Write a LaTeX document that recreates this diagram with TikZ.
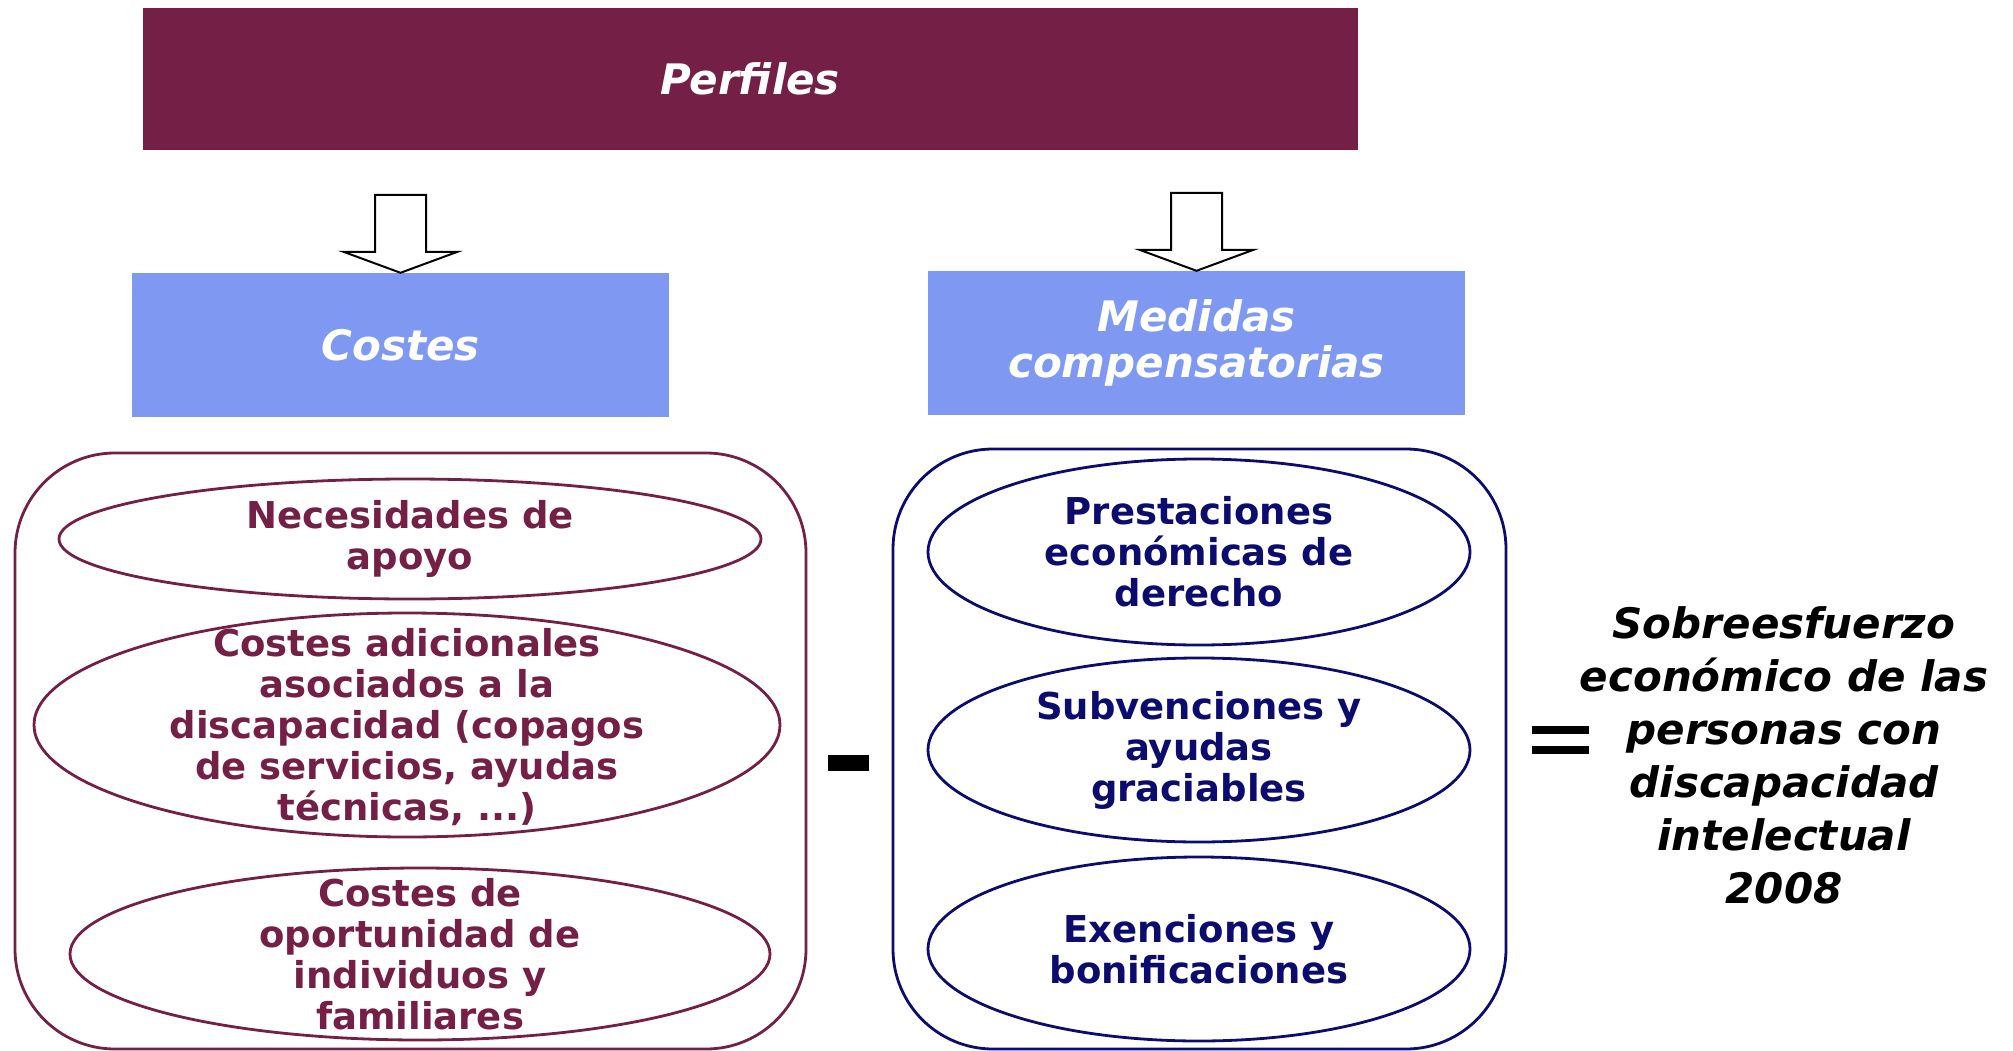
\documentclass[tikz,border=0pt]{standalone}
\usepackage{fontspec}
\setmainfont{DejaVu Sans}
\usetikzlibrary{shapes.geometric}
\definecolor{maroon}{RGB}{116,31,70}
\definecolor{lblue}{RGB}{127,153,243}
\definecolor{navy}{RGB}{12,12,110}
\begin{document}
\begin{tikzpicture}[x=1pt,y=-1pt,
  hdr/.style={fill=maroon, inner sep=0pt, text=white, font=\bfseries\itshape\fontsize{42}{46}\selectfont, align=center},
  bluebox/.style={fill=lblue, inner sep=0pt, minimum width=537pt, minimum height=144pt, text=white, font=\bfseries\itshape\fontsize{42}{46}\selectfont, align=center},
  group/.style={draw, line width=2.8pt, rounded corners=100pt, inner sep=0pt},
  ovl/.style={ellipse, draw, line width=2.8pt, inner sep=0pt},
  lovl/.style={ovl, draw=maroon},
  rovl/.style={ovl, draw=navy},
  otext/.style={inner sep=0pt, align=center, font=\bfseries\fontsize{37}{41}\selectfont},
  ltext/.style={otext, text=maroon},
  rtext/.style={otext, text=navy},
  blkarrow/.style={draw=black, fill=white, line width=2pt, line join=miter},
  bar/.style={fill=black, inner sep=0pt}
]
\useasboundingbox (0,0) rectangle (2013,1051);

% header
\node[hdr, minimum width=1215pt, minimum height=142pt] (perfiles) at (750,79) {Perfiles};

% blue boxes
\node[bluebox] (costes) at (400.5,345) {Costes};
\node[bluebox] (medidas) at (1196.5,343) {Medidas\\compensatorias};

% block arrows
\coordinate (t1) at (costes.north);
\coordinate (t2) at (medidas.north);
\draw[blkarrow] (t1) -- ++(57,-21) -- ++(-31.5,0) -- ++(0,-57) -- ++(-51,0) -- ++(0,57) -- ++(-31.5,0) -- cycle;
\draw[blkarrow] (t2) -- ++(57,-21) -- ++(-31.5,0) -- ++(0,-57) -- ++(-51,0) -- ++(0,57) -- ++(-31.5,0) -- cycle;

% group frames
\node[group, draw=maroon, minimum width=791pt, minimum height=596pt] (lgroup) at (410.5,751) {};
\node[group, draw=navy, minimum width=613pt, minimum height=600pt] (rgroup) at (1199.5,749) {};

% left ellipses
\node[lovl, minimum width=702pt, minimum height=120pt] (e1) at (410,539) {};
\node[lovl, minimum width=746pt, minimum height=224pt] (e2) at (407,725) {};
\node[lovl, minimum width=700pt, minimum height=172pt] (e3) at (420,954) {};
\node[ltext] (e1t) at (e1.center) {Necesidades de\\apoyo};
\node[ltext] (e2t) at ([yshift=-2pt]e2.center) {Costes adicionales\\asociados a la\\discapacidad (copagos\\de servicios, ayudas\\técnicas, ...)};
\node[ltext] (e3t) at (e3.center) {Costes de\\oportunidad de\\individuos y\\familiares};

% right ellipses
\node[rovl, minimum width=542pt, minimum height=186pt] (f1) at (1199,552) {};
\node[rovl, minimum width=542pt, minimum height=184pt] (f2) at (1199,750) {};
\node[rovl, minimum width=542pt, minimum height=184pt] (f3) at (1199,949) {};
\node[rtext] (f1t) at (f1.center) {Prestaciones\\económicas de\\derecho};
\node[rtext] (f2t) at (f2.center) {Subvenciones y\\ayudas\\graciables};
\node[rtext] (f3t) at (f3.center) {Exenciones y\\bonificaciones};

% operators
\node[bar, minimum width=41pt, minimum height=16pt] (minus) at (848.5,763) {};
\node[bar, minimum width=57pt, minimum height=8pt] (eqa) at (1560.5,730) {};
\node[bar, minimum width=57pt, minimum height=8pt] (eqb) at (1560.5,749.5) {};

% result
\node[align=center, font=\bfseries\itshape\fontsize{42}{53}\selectfont] (res) at (1784,755)
  {Sobreesfuerzo\\económico de las\\personas con\\discapacidad\\intelectual\\2008};
\end{tikzpicture}
\end{document}
